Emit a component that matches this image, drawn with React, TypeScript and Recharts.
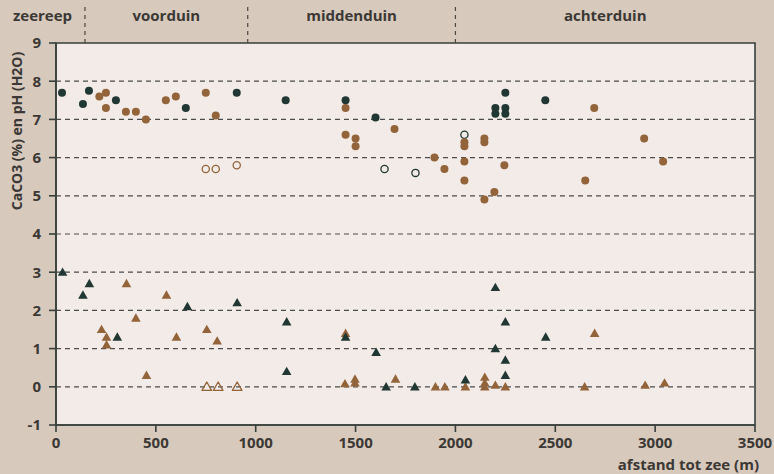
import {
  ScatterChart, Scatter, XAxis, YAxis, ReferenceLine, ReferenceArea, Label,
} from "recharts";

// ── Data (afstand tot zee in m, waarde) ───────────────────────────
type Pt = { x: number; y: number };

// pH, donkere punten
const phBlack: Pt[] = [
  { x: 30, y: 7.7 }, { x: 135, y: 7.4 }, { x: 165, y: 7.75 }, { x: 300, y: 7.5 },
  { x: 650, y: 7.3 }, { x: 905, y: 7.7 }, { x: 1150, y: 7.5 }, { x: 1450, y: 7.5 },
  { x: 1600, y: 7.05 }, { x: 2200, y: 7.3 }, { x: 2200, y: 7.15 }, { x: 2250, y: 7.3 },
  { x: 2250, y: 7.15 }, { x: 2250, y: 7.7 }, { x: 2450, y: 7.5 },
];
// pH, bruine punten
const phBrown: Pt[] = [
  { x: 217, y: 7.6 }, { x: 250, y: 7.7 }, { x: 250, y: 7.3 }, { x: 350, y: 7.2 },
  { x: 400, y: 7.2 }, { x: 450, y: 7.0 }, { x: 550, y: 7.5 }, { x: 600, y: 7.6 },
  { x: 750, y: 7.7 }, { x: 800, y: 7.1 }, { x: 1450, y: 7.3 }, { x: 1450, y: 6.6 },
  { x: 1500, y: 6.5 }, { x: 1500, y: 6.3 }, { x: 1695, y: 6.75 }, { x: 1895, y: 6.0 },
  { x: 1945, y: 5.7 }, { x: 2045, y: 6.4 }, { x: 2045, y: 6.3 }, { x: 2045, y: 5.9 },
  { x: 2045, y: 5.4 }, { x: 2145, y: 6.5 }, { x: 2145, y: 6.4 }, { x: 2145, y: 4.9 },
  { x: 2195, y: 5.1 }, { x: 2245, y: 5.8 }, { x: 2650, y: 5.4 }, { x: 2695, y: 7.3 },
  { x: 2945, y: 6.5 }, { x: 3040, y: 5.9 },
];
// pH, open punten
const phOpenBrown: Pt[] = [{ x: 750, y: 5.7 }, { x: 800, y: 5.7 }, { x: 905, y: 5.8 }];
const phOpenBlack: Pt[] = [{ x: 1645, y: 5.7 }, { x: 1800, y: 5.6 }, { x: 2045, y: 6.6 }];

// CaCO3, donkere driehoeken
const caBlack: Pt[] = [
  { x: 33, y: 3.0 }, { x: 135, y: 2.4 }, { x: 167, y: 2.7 }, { x: 307, y: 1.3 },
  { x: 658, y: 2.1 }, { x: 907, y: 2.2 }, { x: 1155, y: 1.7 }, { x: 1155, y: 0.4 },
  { x: 1450, y: 1.3 }, { x: 1603, y: 0.9 }, { x: 1653, y: 0.0 }, { x: 1797, y: 0.0 },
  { x: 2050, y: 0.18 }, { x: 2200, y: 2.6 }, { x: 2200, y: 1.0 }, { x: 2250, y: 1.7 },
  { x: 2250, y: 0.7 }, { x: 2250, y: 0.3 }, { x: 2452, y: 1.3 },
];
// CaCO3, bruine driehoeken
const caBrown: Pt[] = [
  { x: 228, y: 1.5 }, { x: 253, y: 1.3 }, { x: 253, y: 1.1 }, { x: 353, y: 2.7 },
  { x: 400, y: 1.8 }, { x: 453, y: 0.3 }, { x: 553, y: 2.4 }, { x: 603, y: 1.3 },
  { x: 755, y: 1.5 }, { x: 807, y: 1.2 }, { x: 1450, y: 1.4 }, { x: 1447, y: 0.08 },
  { x: 1497, y: 0.2 }, { x: 1497, y: 0.1 }, { x: 1700, y: 0.2 }, { x: 1900, y: 0.0 },
  { x: 1947, y: 0.0 }, { x: 2050, y: 0.0 }, { x: 2147, y: 0.25 }, { x: 2147, y: 0.1 },
  { x: 2147, y: 0.0 }, { x: 2200, y: 0.04 }, { x: 2250, y: 0.0 }, { x: 2647, y: 0.0 },
  { x: 2697, y: 1.4 }, { x: 2950, y: 0.04 }, { x: 3047, y: 0.1 },
];
// CaCO3, open driehoeken
const caOpen: Pt[] = [{ x: 755, y: 0.0 }, { x: 812, y: 0.0 }, { x: 907, y: 0.0 }];

const xTicks = [0, 500, 1000, 1500, 2000, 2500, 3000, 3500];
const yTicks = [-1, 0, 1, 2, 3, 4, 5, 6, 7, 8, 9];
const gridLines = [0, 1, 2, 3, 4, 5, 6, 7, 8];

// zones along the top band
const zoneBounds = [-280, 145, 960, 2000, 3500];
const zoneNames = ["zeereep", "voorduin", "middenduin", "achterduin"];

// ── Style ─────────────────────────────────────────────────────────
const BLACK = "#213733";
const BROWN = "#93643a";
const AXIS = "#38403d";
const TEXT = "#3b3835";
const FONT = "'Open Sans', sans-serif";

const circle = (fill: string, stroke: string) => (p: any) => (
  <circle cx={p.cx} cy={p.cy} r={fill === "none" ? 3.6 : 4} fill={fill}
    stroke={stroke} strokeWidth={fill === "none" ? 1.3 : 0} />
);
const triangle = (fill: string, stroke: string) => (p: any) => {
  const { cx, cy } = p;
  const pts = `${cx},${cy - 4.8} ${cx - 4.8},${cy + 3.6} ${cx + 4.8},${cy + 3.6}`;
  return <polygon points={pts} fill={fill} stroke={stroke}
    strokeWidth={fill === "none" ? 1.3 : 0} strokeLinejoin="round" />;
};

const tickStyle = { fill: TEXT, fontSize: 15, fontWeight: 700, fontFamily: FONT };

export default function App() {
  return (
    <div style={{ position: "absolute", left: 0, top: 0, width: 774, height: 474, background: "#d7c9bb" }}>
      <ScatterChart width={774} height={474} margin={{ top: 43, right: 19, bottom: 0, left: 0 }}>
        <XAxis
          type="number" dataKey="x" domain={[0, 3500]} ticks={xTicks}
          allowDataOverflow tick={tickStyle} tickSize={7} tickMargin={5}
          stroke={AXIS} strokeWidth={1.6} height={49}
        >
          <Label value="afstand tot zee (m)" position="insideBottomRight" offset={0}
            dx={4} dy={-4}
            style={{ fill: TEXT, fontSize: 15, fontWeight: 700, fontFamily: FONT }} />
        </XAxis>
        <YAxis
          type="number" dataKey="y" domain={[-1, 9]} ticks={yTicks}
          allowDataOverflow tick={tickStyle} tickSize={7} tickMargin={8}
          stroke={AXIS} strokeWidth={1.6} width={56}
        >
          <Label value="CaCO3 (%) en pH (H2O)" angle={-90} position="insideTopLeft"
            content={() => (
              <text x={22} y={131} transform="rotate(-90 22 131)" textAnchor="middle"
                style={{ fill: TEXT, fontSize: 14, fontWeight: 700, fontFamily: FONT }}>
                CaCO3 (%) en pH (H2O)
              </text>
            )} />
        </YAxis>

        {/* plot background with border */}
        <ReferenceArea x1={0} x2={3500} y1={-1} y2={9} fill="#f2ebe7" fillOpacity={1}
          stroke={AXIS} strokeWidth={1.6} />

        {/* zone labels and dividers above the plot */}
        {zoneNames.map((name, i) => (
          <ReferenceArea key={name} x1={zoneBounds[i]} x2={zoneBounds[i + 1]} y1={9} y2={10}
            ifOverflow="visible" fill="none" stroke="none"
            label={{ value: name, position: "center", dy: -8, fill: TEXT, fontSize: 15, fontWeight: 700, fontFamily: FONT }} />
        ))}
        {zoneBounds.slice(1, 4).map(b => (
          <ReferenceLine key={b} segment={[{ x: b, y: 9 }, { x: b, y: 9.98 }]} ifOverflow="visible"
            stroke="#4a4642" strokeWidth={1.2} strokeDasharray="4 4" />
        ))}

        {gridLines.map(v => (
          <ReferenceLine key={v} y={v} stroke="#4a4d4b" strokeWidth={1.2} strokeDasharray="5 4" />
        ))}

        <Scatter data={caOpen} shape={triangle("none", BROWN)} isAnimationActive={false} />
        <Scatter data={caBrown} shape={triangle(BROWN, BROWN)} isAnimationActive={false} />
        <Scatter data={caBlack} shape={triangle(BLACK, BLACK)} isAnimationActive={false} />
        <Scatter data={phOpenBrown} shape={circle("none", BROWN)} isAnimationActive={false} />
        <Scatter data={phOpenBlack} shape={circle("none", BLACK)} isAnimationActive={false} />
        <Scatter data={phBrown} shape={circle(BROWN, BROWN)} isAnimationActive={false} />
        <Scatter data={phBlack} shape={circle(BLACK, BLACK)} isAnimationActive={false} />
      </ScatterChart>
    </div>
  );
}
